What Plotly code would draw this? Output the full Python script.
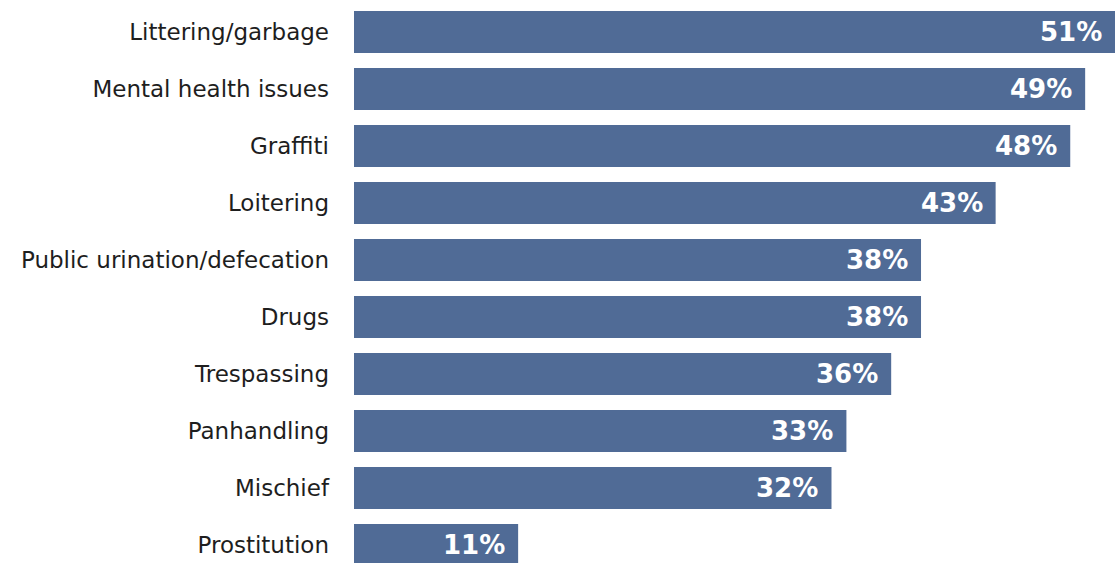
import plotly.graph_objects as go

categories = [
    "Littering/garbage",
    "Mental health issues",
    "Graffiti",
    "Loitering",
    "Public urination/defecation",
    "Drugs",
    "Trespassing",
    "Panhandling",
    "Mischief",
    "Prostitution",
]
values = [51, 49, 48, 43, 38, 38, 36, 33, 32, 11]

BAR_COLOR = "#506b96"

fig = go.Figure(
    go.Bar(
        x=values,
        y=categories,
        orientation="h",
        marker=dict(color=BAR_COLOR, line=dict(width=0)),
        hoverinfo="skip",
    )
)

# value labels inside the bar end
for cat, v in zip(categories, values):
    fig.add_annotation(
        x=v, y=cat, text=f"<b>{v}%</b>", showarrow=False,
        xanchor="right", yanchor="middle", xshift=-11, yshift=0,
        font=dict(family="DejaVu Sans", size=26, color="white"),
    )

fig.update_layout(
    width=1115, height=563,
    margin=dict(l=354, r=0, t=0, b=0),
    paper_bgcolor="white", plot_bgcolor="white",
    bargap=0.26,
    showlegend=False,
    xaxis=dict(range=[0, 51], visible=False, fixedrange=True),
    yaxis=dict(
        range=[9.316, -0.561],
        showgrid=False, zeroline=False, showline=False,
        ticks="", ticklabelstandoff=24,
        tickfont=dict(family="DejaVu Sans", size=23, color="#1e1e1e"),
    ),
)

fig.write_html("out.html")
